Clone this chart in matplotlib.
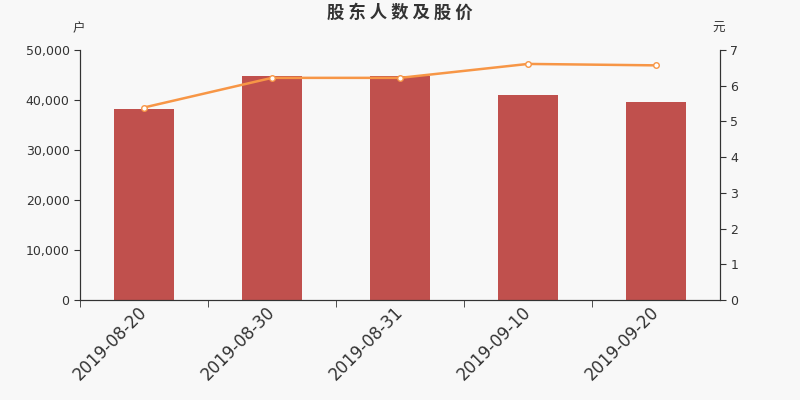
import numpy as np
import matplotlib
matplotlib.use('Agg')
from matplotlib import pyplot as plt
from matplotlib.ticker import FuncFormatter

plt.rcParams['font.family'] = ['DejaVu Sans', 'Noto Sans CJK SC']

dates = ['2019-08-20', '2019-08-30', '2019-08-31', '2019-09-10', '2019-09-20']
holders = [38200, 44800, 44800, 41000, 39600]
price = [5.39, 6.22, 6.22, 6.61, 6.57]

bg = '#f8f8f8'
cjk = ['Noto Sans CJK SC', 'DejaVu Sans']
fig = plt.figure(figsize=(8, 4), dpi=100, facecolor=bg)
ax = fig.add_axes([0.1, 0.25, 0.8, 0.625], facecolor=bg)
x = np.arange(len(dates))

ax.bar(x, holders, width=0.47, color='#c0504d', zorder=2)
ax.set_xlim(-0.5, len(dates) - 0.5)
ax.set_ylim(0, 50000)
ax.set_yticks(np.arange(0, 50001, 10000))
ax.yaxis.set_major_formatter(FuncFormatter(lambda v, p: f'{int(v):,}'))
ax.set_xticks(x)
ax.set_xticklabels(dates, rotation=45, ha='right', va='center', rotation_mode='anchor',
                   fontsize=12, color='#333333')
ax.tick_params(axis='x', length=0, pad=7)
ax.set_xticks(np.arange(-0.5, len(dates) - 1, 1), minor=True)
ax.tick_params(axis='x', which='minor', length=5, color='#333333')
ax.tick_params(axis='y', labelsize=9, colors='#333333', length=4)
ax.spines['top'].set_visible(False)
for s in ['left', 'bottom', 'right']:
    ax.spines[s].set_color('#333333')

ax2 = ax.twinx()
ax2.plot(x, price, color='#f79646', linewidth=1.8, marker='o', markersize=4,
         markerfacecolor='white', markeredgecolor='#f79646', markeredgewidth=1, zorder=3)
ax2.set_ylim(0, 7)
ax2.set_yticks(range(0, 8))
ax2.tick_params(axis='y', labelsize=9, colors='#333333', length=4)
ax2.spines['top'].set_visible(False)
for s in ['left', 'bottom', 'right']:
    ax2.spines[s].set_color('#333333')

fig.text(0.5, 0.967, '股 东 人 数 及 股 价', ha='center', va='center', fontsize=12.5,
         fontweight='bold', color='#333333', family=cjk)
fig.text(0.098, 0.928, '户', ha='center', va='center', fontsize=9, color='#333333', family=cjk)
fig.text(0.898, 0.928, '元', ha='center', va='center', fontsize=9, color='#333333', family=cjk)

fig.savefig('out.png', dpi=100, facecolor=bg)
